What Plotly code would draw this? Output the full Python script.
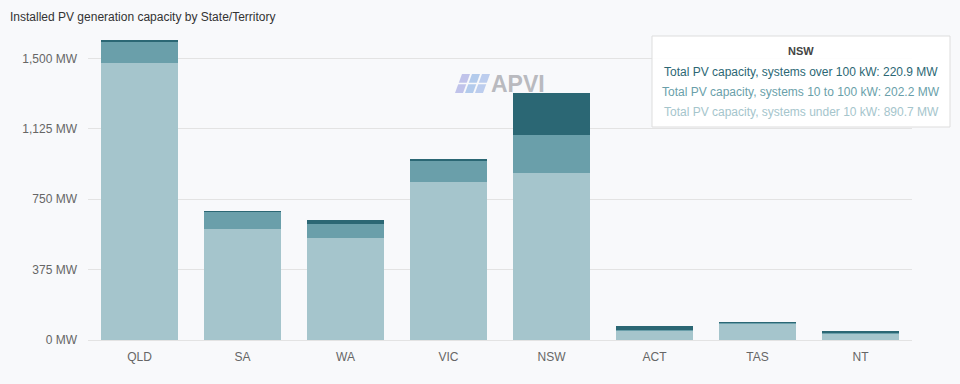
import plotly.graph_objects as go

# ---- data ----
states = ["QLD", "SA", "WA", "VIC", "NSW", "ACT", "TAS", "NT"]
under_10kw = [1476, 590, 545, 840, 890.7, 50, 87, 34]
kw10_to_100 = [112, 94, 73, 116, 202.2, 4, 6, 2]
over_100kw = [11, 2, 23, 8, 220.9, 21, 1, 14]

series_names = [
    "Total PV capacity, systems under 10 kW",
    "Total PV capacity, systems 10 to 100 kW",
    "Total PV capacity, systems over 100 kW",
]
series_colors = ["#a5c5cc", "#6a9faa", "#2b6774"]

tick_vals = [0, 375, 750, 1125, 1500]
tick_text = ["0 MW", "375 MW", "750 MW", "1,125 MW", "1,500 MW"]

title_text = "Installed PV generation capacity by State/Territory"
tooltip_state = "NSW"

FONT = "Liberation Sans, Arial, sans-serif"
W, H = 960, 384
ML, MR, MT, MB = 88, 48, 30, 44
PW, PH = W - ML - MR, H - MT - MB


def px(x):
    return (x - ML) / PW


def py(y):
    return (H - MB - y) / PH


fig = go.Figure()
for name, vals, col in zip(series_names, [under_10kw, kw10_to_100, over_100kw], series_colors):
    fig.add_trace(go.Bar(x=states, y=vals, name=name, marker=dict(color=col, line=dict(width=0))))

fig.update_layout(
    width=W, height=H,
    barmode="stack", bargap=0.25,
    margin=dict(l=ML, r=MR, t=MT, b=MB, autoexpand=False),
    paper_bgcolor="#f8f9fb", plot_bgcolor="#f8f9fb",
    showlegend=False,
    font=dict(family=FONT, size=12, color="#666666"),
    xaxis=dict(showgrid=False, showline=False, ticks="", ticklabelstandoff=8,
               tickfont=dict(size=12, color="#666666")),
    yaxis=dict(range=[0, 1652], tickvals=tick_vals, ticktext=tick_text, showgrid=True,
               gridcolor="#e3e3e3", gridwidth=1, zeroline=True, zerolinecolor="#e3e3e3",
               zerolinewidth=1, ticks="", ticklabelstandoff=10, tickfont=dict(size=12, color="#666666")),
)

# title
fig.add_annotation(text=title_text, xref="paper", yref="paper", x=px(8), y=py(17),
                   xanchor="left", yanchor="middle", showarrow=False,
                   font=dict(size=12, color="#333333", family=FONT))

# APVI logo
stripe_col = ["#c0c3ea", "#b3cbec", "#bccdee"]
for i in range(3):
    x0 = 455 + i * 10
    path = "M {} {} L {} {} L {} {} L {} {} Z".format(
        px(x0), py(93), px(x0 + 8), py(93), px(x0 + 15), py(74), px(x0 + 7), py(74))
    fig.add_shape(type="path", path=path, xref="paper", yref="paper",
                  fillcolor=stripe_col[i], line=dict(width=0), layer="above")
fig.add_shape(type="line", xref="paper", yref="paper", x0=px(453), x1=px(492), y0=py(83.5), y1=py(83.5),
              line=dict(color="#f8f9fb", width=1.5), layer="above")
fig.add_annotation(text="<b>APVI</b>", xref="paper", yref="paper", x=px(489), y=py(84),
                   xanchor="left", yanchor="middle", showarrow=False,
                   font=dict(size=23, color="#b9babf", family=FONT))

# tooltip box
fig.add_shape(type="rect", xref="paper", yref="paper", x0=px(652), x1=px(950), y0=py(36), y1=py(127),
              fillcolor="rgba(255,255,255,0.92)", line=dict(color="#dddddd", width=1), layer="above")
idx = states.index(tooltip_state)
fig.add_annotation(text="<b>" + tooltip_state + "</b>", xref="paper", yref="paper", x=px(801), y=py(51),
                   xanchor="center", yanchor="middle", showarrow=False,
                   font=dict(size=11, color="#444444", family=FONT))
lines = [
    (series_names[2], over_100kw[idx], series_colors[2]),
    (series_names[1], kw10_to_100[idx], series_colors[1]),
    (series_names[0], under_10kw[idx], series_colors[0]),
]
for k, (nm, v, col) in enumerate(lines):
    fig.add_annotation(text="{}: {:.1f} MW".format(nm, v), xref="paper", yref="paper",
                       x=px(801), y=py(72 + k * 20), xanchor="center", yanchor="middle",
                       showarrow=False, font=dict(size=12, color=col, family=FONT))

fig.write_html("out.html", config={"displayModeBar": False},
               post_script="document.body.style.margin='0';")
